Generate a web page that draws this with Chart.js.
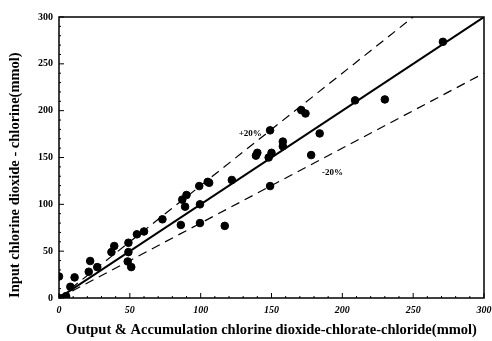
<!DOCTYPE html>
<html>
<head>
<meta charset="utf-8">
<script src="https://cdn.jsdelivr.net/npm/chart.js@4/dist/chart.umd.min.js"></script>
<style>
  html, body { margin: 0; padding: 0; background: #fff; }
  #wrap { width: 492px; height: 341px; }
</style>
</head>
<body>
<div id="wrap"><canvas id="chart"></canvas></div>
<script>
// measured points (output vs input, mmol)
const outputVals = [0, 0, 3, 5, 8, 11, 21, 22, 27, 37, 39, 48.5, 49, 49, 51, 55, 60, 73,
  86, 87, 89, 90, 99, 99.5, 99.5, 105, 106, 117, 122, 139, 140, 148, 150, 149, 149,
  158, 158, 171, 174, 178, 184, 209, 230, 271];
const inputVals = [23, 0, 0, 2, 12, 22, 28, 39.5, 33, 49, 55.5, 39, 49, 59, 33, 68, 71, 84,
  78, 105, 97.5, 110, 119.5, 100, 80, 124, 123, 77, 126, 152, 155, 150, 155, 179, 119.5,
  167, 162, 200.6, 197, 152.6, 175.7, 211, 212, 273.5];

const lineX = [0, 300];
const upperX = [0, 250];
const lowerX = [0, 300];
const xTicks = [0, 50, 100, 150, 200, 250, 300];
const yTicks = [0, 50, 100, 150, 200, 250, 300];

const serif = 'Liberation Serif';

const points = outputVals.map((x, i) => ({ x: x, y: inputVals[i] }));

// box + inward ticks + band labels
const frame = {
  id: 'frame',
  afterDraw(chart) {
    const ctx = chart.ctx;
    const a = chart.chartArea;
    const xs = chart.scales.x, ys = chart.scales.y;
    ctx.save();
    ctx.strokeStyle = '#000';
    ctx.lineWidth = 1.5;
    ctx.strokeRect(a.left, a.top, a.right - a.left, a.bottom - a.top);
    ctx.lineWidth = 1;
    for (let v = 0; v <= 300; v += 10) {
      const len = v % 50 === 0 ? 5 : 2;
      const px = xs.getPixelForValue(v);
      ctx.beginPath(); ctx.moveTo(px, a.bottom); ctx.lineTo(px, a.bottom - len); ctx.stroke();
      const py = ys.getPixelForValue(v);
      ctx.beginPath(); ctx.moveTo(a.left, py); ctx.lineTo(a.left + len, py); ctx.stroke();
    }
    ctx.fillStyle = '#000';
    ctx.font = 'bold 9px ' + serif;
    ctx.textAlign = 'center';
    ctx.textBaseline = 'middle';
    ctx.fillText('+20%', xs.getPixelForValue(135), ys.getPixelForValue(175));
    ctx.fillText('-20%', xs.getPixelForValue(193), ys.getPixelForValue(134));
    ctx.restore();
  }
};

new Chart(document.getElementById('chart'), {
  type: 'scatter',
  data: {
    datasets: [
      {
        label: 'data',
        data: points,
        backgroundColor: '#000',
        borderColor: '#000',
        pointRadius: 3.8,
        pointHoverRadius: 3.8
      },
      {
        type: 'line',
        label: '1:1',
        data: lineX.map(x => ({ x: x, y: x })),
        borderColor: '#000',
        borderWidth: 2,
        pointRadius: 0,
        fill: false
      },
      {
        type: 'line',
        label: '+20%',
        data: upperX.map(x => ({ x: x, y: x * 1.2 })),
        borderColor: '#000',
        borderWidth: 1.2,
        borderDash: [9, 6],
        pointRadius: 0,
        fill: false
      },
      {
        type: 'line',
        label: '-20%',
        data: lowerX.map(x => ({ x: x, y: x * 0.8 })),
        borderColor: '#000',
        borderWidth: 1.2,
        borderDash: [9, 6],
        pointRadius: 0,
        fill: false
      }
    ]
  },
  options: {
    responsive: true,
    maintainAspectRatio: false,
    animation: false,
    layout: { padding: { left: 0, right: 0, top: 17, bottom: 0 } },
    plugins: { legend: { display: false }, tooltip: { enabled: false } },
    scales: {
      x: {
        type: 'linear',
        min: 0, max: 300,
        afterBuildTicks: s => { s.ticks = xTicks.map(v => ({ value: v })); },
        afterFit: s => { s.height = 43; s.paddingLeft = 0; s.paddingRight = 8; },
        grid: { display: false, drawTicks: false },
        border: { display: false },
        ticks: { color: '#000', padding: 6, font: { family: serif, size: 10, weight: 'bold', style: 'italic' } },
        title: {
          display: true,
          text: 'Output & Accumulation chlorine dioxide-chlorate-chloride(mmol)',
          color: '#000',
          padding: { top: 0, bottom: 2 },
          font: { family: serif, size: 14.5, weight: 'bold' }
        }
      },
      y: {
        type: 'linear',
        min: 0, max: 300,
        afterBuildTicks: s => { s.ticks = yTicks.map(v => ({ value: v })); },
        afterFit: s => { s.width = 59; },
        grid: { display: false, drawTicks: false },
        border: { display: false },
        ticks: { color: '#000', padding: 6, font: { family: serif, size: 10, weight: 'bold' } },
        title: {
          display: true,
          text: 'Input chlorine dioxide - chlorine(mmol)',
          color: '#000',
          align: 'start',
          padding: { top: 7, bottom: 0 },
          font: { family: serif, size: 14.5, weight: 'bold' }
        }
      }
    }
  },
  plugins: [frame]
});
</script>
</body>
</html>
